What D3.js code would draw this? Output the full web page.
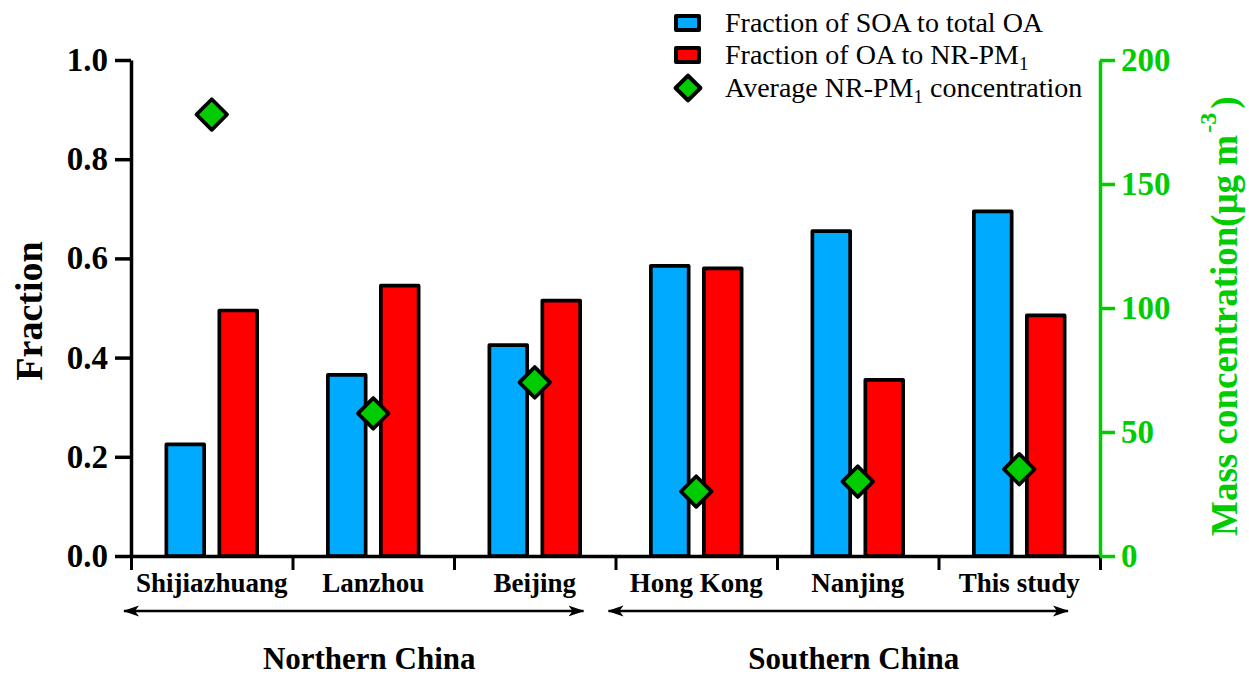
<!DOCTYPE html>
<html>
<head>
<meta charset="utf-8">
<script src="https://cdn.jsdelivr.net/npm/d3@7"></script>
<style>
  html, body { margin: 0; padding: 0; background: #fff; }
  svg { display: block; font-family: "Liberation Serif", "Times New Roman", serif; }
</style>
</head>
<body>
<svg id="chart" width="1249" height="677"></svg>
<script>
// Sites, grouped by region
const categories = ["Shijiazhuang", "Lanzhou", "Beijing", "Hong Kong", "Nanjing", "This study"];
const regions = [
  { name: "Northern China", sites: ["Shijiazhuang", "Lanzhou", "Beijing"] },
  { name: "Southern China", sites: ["Hong Kong", "Nanjing", "This study"] }
];

// Fraction of SOA to total OA
const soaFraction = [0.225, 0.365, 0.425, 0.585, 0.655, 0.695];
// Fraction of OA to NR-PM1
const oaFraction = [0.495, 0.545, 0.515, 0.58, 0.355, 0.485];
// Average NR-PM1 concentration (µg m-3)
const pmConc = [178, 57.5, 70, 26, 30, 35];

const fractionTicks = [0, 0.2, 0.4, 0.6, 0.8, 1.0];
const massTicks = [0, 50, 100, 150, 200];

const BLUE = "#00aaff", RED = "#ff0000", GREEN = "#00cc00", AXIS_GREEN = "#00cc00";

const svg = d3.select("#chart");
const plotLeft = 131, plotRight = 1100, plotTop = 60, plotBottom = 556;

const x = d3.scaleBand().domain(categories).range([plotLeft, plotRight]);
const xi = d3.scaleLinear().domain([0, categories.length]).range([plotLeft, plotRight]);
const y = d3.scaleLinear().domain([0, 1]).range([plotBottom, plotTop]);
const y2 = d3.scaleLinear().domain([0, 200]).range([plotBottom, plotTop]);

const bw = x.bandwidth();
const barOffset = bw * 0.164;
const barW = bw * 0.234;

// Bars
const g = svg.append("g");
function bars(values, color, sign) {
  g.selectAll(null)
    .data(categories.map((c, i) => ({ c, v: values[i] })))
    .join("rect")
    .attr("x", d => x(d.c) + bw / 2 + sign * barOffset - barW / 2)
    .attr("y", d => y(d.v))
    .attr("width", barW)
    .attr("height", d => y(0) - y(d.v))
    .attr("fill", color)
    .attr("stroke", "#000")
    .attr("stroke-width", 3.7)
    .attr("stroke-linejoin", "round");
}
bars(soaFraction, BLUE, -1);
bars(oaFraction, RED, 1);

// Bottom axis: baseline with ticks between sites
const xAxisG = svg.append("g")
  .attr("transform", `translate(0,${plotBottom})`)
  .call(d3.axisBottom(xi).tickValues(d3.range(categories.length + 1)).tickFormat("").tickSize(14).tickSizeOuter(0));
xAxisG.select(".domain").attr("stroke", "#000").attr("stroke-width", 3.5);
xAxisG.selectAll(".tick line").attr("stroke", "#000").attr("stroke-width", 3);

const xLabG = svg.append("g")
  .attr("transform", `translate(0,${plotBottom})`)
  .call(d3.axisBottom(x).tickSize(0).tickPadding(17));
xLabG.select(".domain").remove();
xLabG.selectAll("text")
  .attr("font-family", "Liberation Serif")
  .attr("font-weight", "bold")
  .attr("font-size", 27)
  .attr("fill", "#000");

// Left axis
const yAxisG = svg.append("g")
  .attr("transform", `translate(${plotLeft},0)`)
  .call(d3.axisLeft(y).tickValues(fractionTicks).tickFormat(d3.format(".1f")).tickSize(16).tickSizeOuter(0).tickPadding(7));
yAxisG.select(".domain").attr("stroke", "#000").attr("stroke-width", 3.5);
yAxisG.selectAll(".tick line").attr("stroke", "#000").attr("stroke-width", 3.5);
yAxisG.selectAll("text")
  .attr("font-family", "Liberation Serif")
  .attr("font-weight", "bold")
  .attr("font-size", 33)
  .attr("fill", "#000");

// Right axis
const y2AxisG = svg.append("g")
  .attr("transform", `translate(${plotRight},0)`)
  .call(d3.axisRight(y2).tickValues(massTicks).tickSize(15).tickSizeOuter(0).tickPadding(6));
y2AxisG.select(".domain").attr("stroke", AXIS_GREEN).attr("stroke-width", 3.5);
y2AxisG.selectAll(".tick line").attr("stroke", AXIS_GREEN).attr("stroke-width", 3.5);
y2AxisG.selectAll("text")
  .attr("font-family", "Liberation Serif")
  .attr("font-weight", "bold")
  .attr("font-size", 33)
  .attr("fill", AXIS_GREEN);

// Diamonds for concentration
const diamond = d3.symbol().type(d3.symbolSquare).size(470);
svg.append("g").selectAll("path")
  .data(categories.map((c, i) => ({ c, v: pmConc[i] })))
  .join("path")
  .attr("d", diamond)
  .attr("transform", d => `translate(${x(d.c) + bw / 2},${y2(d.v)}) rotate(45)`)
  .attr("fill", GREEN)
  .attr("stroke", "#000")
  .attr("stroke-width", 3.7)
  .attr("stroke-linejoin", "round");

// Axis titles
svg.append("text")
  .attr("transform", `translate(42,${(plotTop + plotBottom) / 2 + 3}) rotate(-90)`)
  .attr("text-anchor", "middle")
  .attr("font-weight", "bold")
  .attr("font-size", 38)
  .attr("fill", "#000")
  .text("Fraction");

const rt = svg.append("text")
  .attr("transform", `translate(1237,536) rotate(-90)`)
  .attr("text-anchor", "start")
  .attr("font-weight", "bold")
  .attr("font-size", 37)
  .attr("fill", AXIS_GREEN);
rt.append("tspan").text("Mass concentration(μg m");
rt.append("tspan").attr("dy", -21).attr("dx", 2).attr("font-size", 24).text("-3");
rt.append("tspan").attr("dy", 21).attr("dx", 4).text(")");

// Region arrows
const defs = svg.append("defs");
defs.append("marker")
  .attr("id", "ah")
  .attr("viewBox", "0 -6 16 12")
  .attr("refX", 15).attr("refY", 0)
  .attr("markerWidth", 16).attr("markerHeight", 12)
  .attr("markerUnits", "userSpaceOnUse")
  .attr("orient", "auto-start-reverse")
  .append("path")
  .attr("d", "M0,-5.5 L16,0 L0,5.5 L4,0 Z")
  .attr("fill", "#000");

regions.forEach(r => {
  const x0 = x(r.sites[0]);
  const x1 = x(r.sites[r.sites.length - 1]) + bw;
  svg.append("line")
    .attr("x1", x0 - 7).attr("x2", x1 - 32)
    .attr("y1", 611).attr("y2", 611)
    .attr("stroke", "#000").attr("stroke-width", 2.5)
    .attr("marker-start", "url(#ah)")
    .attr("marker-end", "url(#ah)");
  svg.append("text")
    .attr("x", (x0 + x1) / 2 - 4)
    .attr("y", 669)
    .attr("text-anchor", "middle")
    .attr("font-weight", "bold")
    .attr("font-size", 31)
    .attr("fill", "#000")
    .text(r.name);
});

// Legend
const legend = svg.append("g");
const legendRows = [
  { type: "rect", color: BLUE, cy: 23, parts: [["Fraction of SOA to total OA"]] },
  { type: "rect", color: RED, cy: 55, parts: [["Fraction of OA to NR-PM"], ["1", "sub"]] },
  { type: "diamond", color: GREEN, cy: 88, parts: [["Average NR-PM"], ["1", "sub"], [" concentration"]] }
];
legendRows.forEach(row => {
  if (row.type === "rect") {
    legend.append("rect")
      .attr("x", 676).attr("y", row.cy - 7)
      .attr("width", 23).attr("height", 14)
      .attr("fill", row.color)
      .attr("stroke", "#000").attr("stroke-width", 4)
      .attr("stroke-linejoin", "round");
  } else {
    legend.append("path")
      .attr("d", d3.symbol().type(d3.symbolSquare).size(310)())
      .attr("transform", `translate(688,${row.cy}) rotate(45)`)
      .attr("fill", row.color)
      .attr("stroke", "#000").attr("stroke-width", 4)
      .attr("stroke-linejoin", "round");
  }
  const t = legend.append("text")
    .attr("x", 725).attr("y", row.cy + 9)
    .attr("font-size", 28)
    .attr("fill", "#000");
  let shifted = false;
  row.parts.forEach(([s, kind]) => {
    const ts = t.append("tspan").text(s);
    if (kind === "sub") { ts.attr("dy", 6).attr("font-size", 19); shifted = true; }
    else if (shifted) { ts.attr("dy", -6); shifted = false; }
  });
});
</script>
</body>
</html>
